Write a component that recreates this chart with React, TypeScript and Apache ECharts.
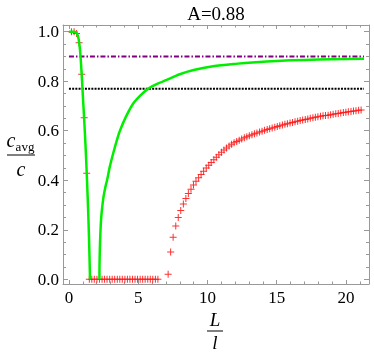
import React, { useEffect, useRef } from "react";
import * as echarts from "echarts";

// ---- data ----
const titleText = "A=0.88";
const xMajor = [0, 5, 10, 15, 20];
const xMinor = [1, 2, 3, 4, 6, 7, 8, 9, 11, 12, 13, 14, 16, 17, 18, 19, 21];
const yMajor = [0, 0.2, 0.4, 0.6, 0.8, 1.0];
const yMinor = [0.05, 0.1, 0.15, 0.25, 0.3, 0.35, 0.45, 0.5, 0.55, 0.65, 0.7, 0.75, 0.85, 0.9, 0.95];

const greenX1 = [0, 0.3, 0.5, 0.6, 0.7, 0.8, 0.9, 1.0, 1.1, 1.2, 1.3, 1.4, 1.47, 1.52];
const greenY1 = [1.0, 1.0, 0.998, 0.99, 0.97, 0.925, 0.845, 0.745, 0.645, 0.535, 0.405, 0.255, 0.12, 0];
const greenX2 = [2.2, 2.205, 2.22, 2.245, 2.28, 2.33, 2.4, 2.5, 2.62, 2.75, 2.95, 3.2, 3.45, 3.68, 4.1, 4.64, 5.2, 5.73, 6.4, 7.05, 8.0, 9.0, 10.4, 12.0, 13.5, 15.0, 17.0, 19.0, 21.3];
const greenY2 = [0, 0.05, 0.1, 0.15, 0.2, 0.25, 0.29, 0.335, 0.37, 0.4, 0.455, 0.51, 0.56, 0.6, 0.655, 0.71, 0.745, 0.77, 0.79, 0.805, 0.828, 0.845, 0.86, 0.87, 0.877, 0.882, 0.886, 0.889, 0.891];

const redX = [
  0.18, 0.37, 0.55, 0.73, 0.92, 1.1, 1.28,
  1.47, 1.65, 1.83, 2.02, 2.2, 2.39, 2.57, 2.75, 2.94, 3.12, 3.3, 3.49, 3.67, 3.85, 4.04, 4.22, 4.4, 4.59, 4.77, 4.95, 5.14, 5.32, 5.5, 5.69, 5.87, 6.05, 6.24, 6.42,
  7.16, 7.34, 7.52, 7.71, 7.89, 8.07, 8.26, 8.44, 8.62, 8.81, 8.99, 9.17, 9.36, 9.54, 9.72, 9.91, 10.09, 10.27, 10.46, 10.64, 10.82, 11.01, 11.19, 11.37, 11.56, 11.74, 11.92, 12.11, 12.29, 12.47, 12.66, 12.84, 13.02, 13.21, 13.39, 13.57, 13.76, 13.94, 14.12, 14.31, 14.49, 14.67, 14.86, 15.04, 15.22, 15.41, 15.59, 15.77, 15.96, 16.14, 16.32, 16.51, 16.69, 16.87, 17.06, 17.24, 17.42, 17.61, 17.79, 17.97, 18.16, 18.34, 18.52, 18.71, 18.89, 19.07, 19.26, 19.44, 19.62, 19.81, 19.99, 20.17, 20.36, 20.54, 20.72, 20.91, 21.09,
];
const redY = [
  1.0, 1.0, 0.993, 0.955, 0.828, 0.652, 0.428,
  0, 0, 0, 0, 0, 0, 0, 0, 0, 0, 0, 0, 0, 0, 0, 0, 0, 0, 0, 0, 0, 0, 0, 0, 0, 0, 0, 0,
  0.02, 0.11, 0.17, 0.215, 0.25, 0.278, 0.304, 0.326, 0.346, 0.364, 0.381, 0.396, 0.41, 0.423, 0.436, 0.449, 0.461, 0.472, 0.483, 0.493, 0.503, 0.513, 0.522, 0.53, 0.538, 0.545, 0.551, 0.557, 0.562, 0.567, 0.572, 0.576, 0.58, 0.584, 0.588, 0.591, 0.595, 0.598, 0.602, 0.605, 0.608, 0.611, 0.614, 0.617, 0.62, 0.623, 0.626, 0.628, 0.631, 0.633, 0.636, 0.638, 0.641, 0.643, 0.645, 0.647, 0.65, 0.652, 0.654, 0.656, 0.658, 0.66, 0.662, 0.663, 0.665, 0.667, 0.669, 0.67, 0.672, 0.674, 0.675, 0.677, 0.678, 0.68, 0.681, 0.683, 0.684,
];

const levelStart = 0;
const levelEnd = 21.3;
const purpleLevel = 0.9;
const blackLevel = 0.77;

const X_MIN = -0.43;
const X_MAX = 21.66;
const Y_MIN = -0.019;
const Y_MAX = 1.027;

const SERIF = "Liberation Serif";
const AXIS_COLOR = "#999999";

export default function App() {
  const ref = useRef<HTMLDivElement>(null);
  useEffect(() => {
    if (!ref.current) return;
    const chart = echarts.init(ref.current, undefined, { renderer: "svg" });

    const green: any[] = [];
    greenX1.forEach((x, i) => green.push([x, greenY1[i]]));
    green.push([null, null]);
    greenX2.forEach((x, i) => green.push([x, greenY2[i]]));
    const red = redX.map((x, i) => [x, redY[i]]);

    const mkX = (pos: string, ticks: number[], len: number, labels: boolean, line: boolean) => ({
      type: "value",
      min: X_MIN,
      max: X_MAX,
      position: pos,
      splitLine: { show: false },
      axisLine: { show: line, onZero: false, lineStyle: { color: AXIS_COLOR, width: 1 } },
      axisTick: { show: true, inside: true, length: len, customValues: ticks, lineStyle: { color: AXIS_COLOR, width: 1 } },
      axisLabel: labels
        ? { show: true, customValues: ticks, margin: 5, fontFamily: SERIF, fontSize: 17, color: "#000" }
        : { show: false },
    });
    const mkY = (pos: string, ticks: number[], len: number, labels: boolean, line: boolean) => ({
      type: "value",
      min: Y_MIN,
      max: Y_MAX,
      position: pos,
      splitLine: { show: false },
      axisLine: { show: line, onZero: false, lineStyle: { color: AXIS_COLOR, width: 1 } },
      axisTick: { show: true, inside: true, length: len, customValues: ticks, lineStyle: { color: AXIS_COLOR, width: 1 } },
      axisLabel: labels
        ? {
            show: true,
            customValues: ticks,
            margin: 4,
            fontFamily: SERIF,
            fontSize: 17,
            color: "#000",
            formatter: (v: number) => v.toFixed(1),
          }
        : { show: false },
    });

    chart.setOption({
      animation: false,
      grid: { left: 63, top: 25, right: 5, bottom: 70, outerBoundsMode: "none", containLabel: false },
      xAxis: [
        mkX("bottom", xMajor, 4, true, true),
        mkX("bottom", xMinor, 2.5, false, false),
        mkX("top", xMajor, 4, false, true),
        mkX("top", xMinor, 2.5, false, false),
      ],
      yAxis: [
        mkY("left", yMajor, 5, true, true),
        mkY("left", yMinor, 3, false, false),
        mkY("right", yMajor, 5, false, true),
        mkY("right", yMinor, 3, false, false),
      ],
      graphic: [
        {
          type: "text",
          x: 216,
          y: 13,
          style: { text: titleText, font: `19px "${SERIF}"`, fill: "#000", align: "center", verticalAlign: "middle" },
        },
        {
          type: "text",
          x: 11,
          y: 140,
          style: { text: "c", font: `italic 20px "${SERIF}"`, fill: "#000", align: "center", verticalAlign: "middle" },
        },
        {
          type: "text",
          x: 25,
          y: 146,
          style: { text: "avg", font: `13px "${SERIF}"`, fill: "#000", align: "center", verticalAlign: "middle" },
        },
        {
          type: "line",
          shape: { x1: 7, y1: 155, x2: 35, y2: 155 },
          style: { stroke: "#000", lineWidth: 1 },
        },
        {
          type: "text",
          x: 21,
          y: 169,
          style: { text: "c", font: `italic 20px "${SERIF}"`, fill: "#000", align: "center", verticalAlign: "middle" },
        },
        {
          type: "text",
          x: 215,
          y: 319,
          style: { text: "L", font: `italic 19px "${SERIF}"`, fill: "#000", align: "center", verticalAlign: "middle" },
        },
        {
          type: "line",
          shape: { x1: 207, y1: 331, x2: 223, y2: 331 },
          style: { stroke: "#000", lineWidth: 1 },
        },
        {
          type: "text",
          x: 215,
          y: 342,
          style: { text: "l", font: `italic 19px "${SERIF}"`, fill: "#000", align: "center", verticalAlign: "middle" },
        },
      ],
      series: [
        {
          type: "line",
          data: [
            [levelStart, purpleLevel],
            [levelEnd, purpleLevel],
          ],
          symbol: "none",
          lineStyle: { color: "#800080", width: 2, type: [5, 2, 1.5, 2] },
          silent: true,
        },
        {
          type: "line",
          data: [
            [levelStart, blackLevel],
            [levelEnd, blackLevel],
          ],
          symbol: "none",
          lineStyle: { color: "#000000", width: 2, type: [2, 1.2] },
          silent: true,
        },
        {
          type: "line",
          data: green,
          symbol: "none",
          connectNulls: false,
          smooth: 0.3,
          lineStyle: { color: "#00ee00", width: 2.5 },
          silent: true,
        },
        {
          type: "scatter",
          data: red,
          symbol: "path://M3,0h1v7h-1z M0,3h7v1h-7z",
          symbolSize: 7,
          itemStyle: { color: "#ff1a1a", opacity: 0.9 },
          silent: true,
        },
      ],
    });
    return () => chart.dispose();
  }, []);
  return <div ref={ref} style={{ position: "fixed", left: 0, top: 0, width: 374, height: 354 }} />;
}
